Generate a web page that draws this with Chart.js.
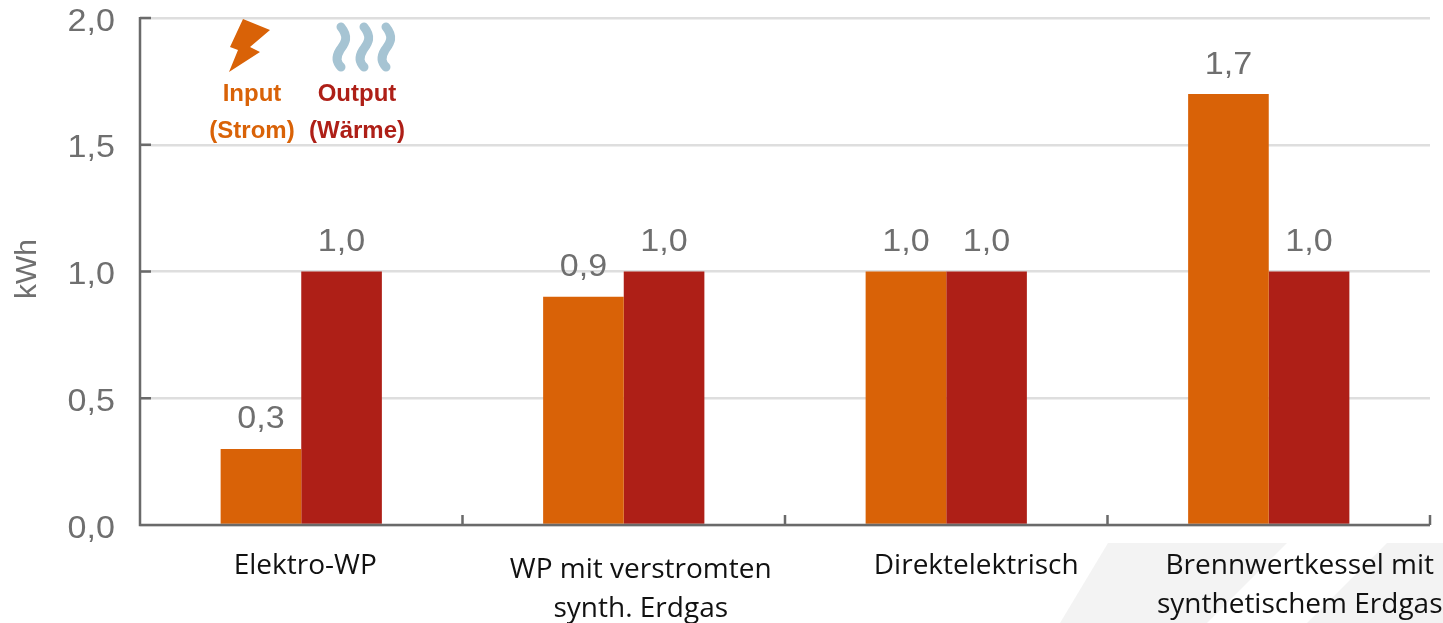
<!DOCTYPE html>
<html>
<head>
<meta charset="utf-8">
<title>Input / Output</title>
<script src="https://cdn.jsdelivr.net/npm/chart.js@4"></script>
<style>
html, body { margin: 0; padding: 0; background: #fff; }
canvas { display: block; }
</style>
</head>
<body>
<canvas id="kwhChart" width="1443" height="623"></canvas>
<script>
// data
const categories = [
  ['Elektro-WP'],
  ['WP mit verstromten', 'synth. Erdgas'],
  ['Direktelektrisch'],
  ['Brennwertkessel mit', 'synthetischem Erdgas']
];
const inputValues = [0.3, 0.9, 1.0, 1.7];
const outputValues = [1.0, 1.0, 1.0, 1.0];
const yTickLabels = ['0,0', '0,5', '1,0', '1,5', '2,0'];

const ORANGE = '#d96207';
const RED = '#ae1f17';
const GREY = '#6f6f6f';
const AXIS = '#6a6a6a';

// the category labels do not sit under the groups in the original
const labelShift = [4, 17, 30, 31];
const labelTop = [566, 570, 566, 566];

function stretchedText(ctx, text, x, y, align) {
  ctx.save();
  ctx.translate(x, y);
  ctx.scale(1.1, 1);
  ctx.font = '31px "Liberation Sans"';
  ctx.fillStyle = GREY;
  ctx.textAlign = align;
  ctx.textBaseline = 'middle';
  ctx.fillText(text, 0, 0);
  ctx.restore();
}

// faint slanted stripes behind the bottom right corner
const backdrop = {
  id: 'backdrop',
  beforeDraw(chart) {
    const ctx = chart.ctx;
    ctx.save();
    ctx.fillStyle = '#f3f3f3';
    ctx.beginPath();
    ctx.moveTo(1108, 543); ctx.lineTo(1287, 543); ctx.lineTo(1207, 623); ctx.lineTo(1060, 623);
    ctx.closePath();
    ctx.fill();
    ctx.beginPath();
    ctx.moveTo(1387, 543); ctx.lineTo(1443, 543); ctx.lineTo(1443, 623); ctx.lineTo(1307, 623);
    ctx.closePath();
    ctx.fill();
    ctx.restore();
  }
};

const decorations = {
  id: 'decorations',
  afterDatasetsDraw(chart) {
    const ctx = chart.ctx;
    const x = chart.scales.x;
    const y = chart.scales.y;
    const area = chart.chartArea;

    // axes and inner tick marks
    ctx.save();
    ctx.strokeStyle = AXIS;
    ctx.lineWidth = 2.5;
    ctx.beginPath();
    ctx.moveTo(area.left, area.top - 1);
    ctx.lineTo(area.left, area.bottom);
    ctx.lineTo(area.right, area.bottom);
    y.ticks.forEach((t, i) => {
      const py = y.getPixelForTick(i);
      ctx.moveTo(area.left, py);
      ctx.lineTo(area.left + 11, py);
    });
    categories.forEach((c, i) => {
      const px = x.getPixelForValue(i) + (area.right - area.left) / categories.length / 2;
      ctx.moveTo(px, area.bottom);
      ctx.lineTo(px, area.bottom - 10);
    });
    ctx.stroke();
    ctx.restore();

    // y tick labels
    y.ticks.forEach((t, i) => {
      stretchedText(ctx, yTickLabels[i], 115, y.getPixelForTick(i) + 4, 'right');
    });

    // value labels over the bars
    chart.data.datasets.forEach((ds, d) => {
      chart.getDatasetMeta(d).data.forEach((bar, i) => {
        stretchedText(ctx, ds.data[i].toFixed(1).replace('.', ','), bar.x, bar.y - 29, 'center');
      });
    });

    // axis title
    ctx.save();
    ctx.translate(28, 269);
    ctx.rotate(-Math.PI / 2);
    ctx.font = '30px "Liberation Sans"';
    ctx.fillStyle = GREY;
    ctx.textAlign = 'center';
    ctx.textBaseline = 'middle';
    ctx.fillText('kWh', 0, 0);
    ctx.restore();

    // category labels
    ctx.save();
    ctx.font = '28px "Open Sans"';
    ctx.fillStyle = '#111';
    ctx.textAlign = 'center';
    ctx.textBaseline = 'middle';
    categories.forEach((lines, i) => {
      lines.forEach((line, l) => {
        ctx.fillText(line, x.getPixelForValue(i) + labelShift[i], labelTop[i] + l * 39);
      });
    });
    ctx.restore();

    // legend drawn inside the plot
    ctx.save();
    ctx.font = 'bold 24px "Liberation Sans"';
    ctx.textAlign = 'center';
    ctx.textBaseline = 'middle';
    ctx.fillStyle = ORANGE;
    ctx.fillText('Input', 252, 94);
    ctx.fillText('(Strom)', 252, 131);
    ctx.fillStyle = RED;
    ctx.fillText('Output', 357, 94);
    ctx.fillText('(Wärme)', 357, 131);

    // lightning bolt
    ctx.fillStyle = ORANGE;
    ctx.beginPath();
    ctx.moveTo(243, 19); ctx.lineTo(270, 30); ctx.lineTo(250, 47); ctx.lineTo(260, 52);
    ctx.lineTo(229, 72); ctx.lineTo(238, 50); ctx.lineTo(230, 47);
    ctx.closePath();
    ctx.fill();

    // heat waves
    ctx.strokeStyle = '#a6c4d3';
    ctx.lineWidth = 9;
    ctx.lineCap = 'round';
    [0, 23, 45].forEach(dx => {
      ctx.beginPath();
      ctx.moveTo(341 + dx, 27);
      ctx.bezierCurveTo(350 + dx, 38, 344 + dx, 44, 340 + dx, 50);
      ctx.bezierCurveTo(335 + dx, 58, 337 + dx, 63, 341 + dx, 67);
      ctx.stroke();
    });
    ctx.restore();
  }
};

new Chart(document.getElementById('kwhChart'), {
  type: 'bar',
  data: {
    labels: categories.map(c => c.join(' ')),
    datasets: [
      { label: 'Input (Strom)', data: inputValues, backgroundColor: ORANGE },
      { label: 'Output (Wärme)', data: outputValues, backgroundColor: RED }
    ]
  },
  plugins: [backdrop, decorations],
  options: {
    responsive: false,
    animation: false,
    layout: { padding: { top: 18, right: 13, left: 0, bottom: 0 } },
    plugins: { legend: { display: false }, tooltip: { enabled: false } },
    datasets: { bar: { categoryPercentage: 0.5, barPercentage: 1 } },
    scales: {
      x: {
        grid: { display: false },
        border: { display: false },
        ticks: { display: false },
        afterFit(scale) { scale.height = 98; }
      },
      y: {
        min: 0,
        max: 2,
        ticks: { stepSize: 0.5, display: false },
        grid: { color: '#dedede', lineWidth: 2.5, drawTicks: false },
        border: { display: false },
        afterFit(scale) { scale.width = 140; }
      }
    }
  }
});
</script>
</body>
</html>
